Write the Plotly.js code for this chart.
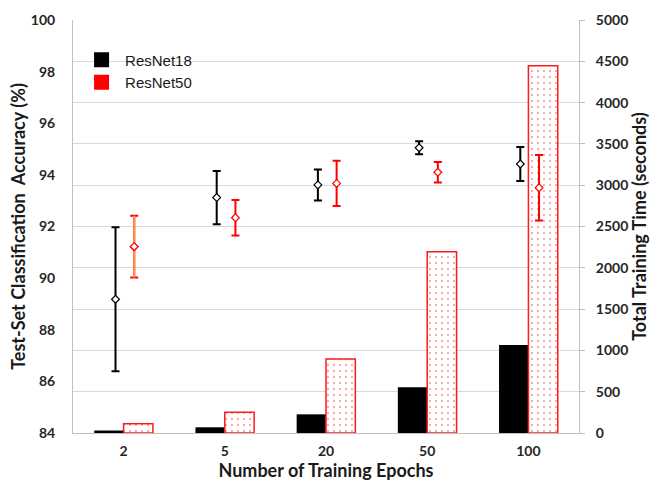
<!DOCTYPE html>
<html>
<head>
<meta charset="utf-8">
<script src="https://cdn.plot.ly/plotly-3.0.1.min.js"></script>
<style>html,body{margin:0;padding:0;background:#fff;}#chart{width:651px;height:481px;}</style>
</head>
<body>
<div id="chart"></div>
<script>
// ---- data ----
const epochs = ['2', '5', '20', '50', '100'];
const acc18 = [89.18, 93.12, 93.61, 95.05, 94.42];
const err18 = [2.79, 1.03, 0.60, 0.25, 0.66];
const acc50 = [91.22, 92.34, 93.67, 94.10, 93.50];
const err50 = [1.20, 0.69, 0.88, 0.40, 1.27];
const time18 = [30, 69, 226, 553, 1065];
const time50 = [113, 250, 896, 2195, 4447];

// ---- styling ----
const idx = epochs.map((_, i) => i);
const BW = 0.29;
const OFF18 = -0.08, OFF50 = 0.105;
const tickFont = {family: 'Lato, "Open Sans", sans-serif', size: 14, color: '#262626', weight: 700};
const titleFont = {family: 'Lato, "Open Sans", sans-serif', size: 18, color: '#1a1a1a', weight: 700};

const traces = [
  {type: 'bar', x: idx, y: time18, xaxis: 'x', yaxis: 'y', width: BW, offset: -BW,
   marker: {color: '#000000', line: {width: 0}}, showlegend: false, hoverinfo: 'skip'},
  {type: 'bar', x: idx, y: time50, xaxis: 'x', yaxis: 'y', width: BW, offset: 0,
   marker: {color: '#ffffff', line: {color: '#ff1a1a', width: 1.5},
            pattern: {shape: '.', fgcolor: '#ff3333', bgcolor: '#ffffff', size: 6, solidity: 0.08, fgopacity: 0.6}},
   showlegend: false, hoverinfo: 'skip'},
  {type: 'scatter', mode: 'markers', x: idx.map(i => i + OFF18), y: acc18, xaxis: 'x', yaxis: 'y2',
   marker: {symbol: 'diamond', size: 6, color: '#ffffff', line: {color: '#000000', width: 1.2}},
   error_y: {type: 'data', array: err18, visible: true, color: '#000000', thickness: 2, width: 4},
   showlegend: false},
  {type: 'scatter', mode: 'markers', x: idx.map(i => i + OFF50), y: acc50, xaxis: 'x', yaxis: 'y2',
   marker: {symbol: 'diamond', size: 6, color: '#ffffff', line: {color: '#ff0000', width: 1.2}},
   error_y: {type: 'data', array: err50, visible: true, color: '#ff0000', thickness: 2, width: 4},
   showlegend: false},
  // first ResNet50 point has an orange error line in the original
  {type: 'scatter', mode: 'markers', x: [idx[0] + OFF50], y: [acc50[0]], xaxis: 'x', yaxis: 'y2',
   marker: {symbol: 'diamond', size: 6, color: '#ffffff', line: {color: '#ff0000', width: 1.2}},
   error_y: {type: 'data', array: [err50[0]], visible: true, color: '#f79646', thickness: 2, width: 0},
   showlegend: false},
  // legend entries
  {type: 'scatter', mode: 'markers', x: [null], y: [null], xaxis: 'x', yaxis: 'y2', name: 'ResNet18',
   marker: {symbol: 'square', size: 15, color: '#000000'}},
  {type: 'scatter', mode: 'markers', x: [null], y: [null], xaxis: 'x', yaxis: 'y2', name: 'ResNet50',
   marker: {symbol: 'square', size: 15, color: '#ff0000'}}
];

const layout = {
  width: 651, height: 481,
  margin: {l: 73, r: 72, t: 20, b: 48},
  paper_bgcolor: '#ffffff', plot_bgcolor: '#ffffff',
  barmode: 'overlay',
  showlegend: true,
  legend: {x: 0.01, y: 0.943, xanchor: 'left', yanchor: 'top', bgcolor: 'rgba(0,0,0,0)', itemwidth: 37,
           font: {family: '"Liberation Sans", Arial, sans-serif', size: 15, color: '#1a1a1a'}},
  xaxis: {range: [-0.5, 4.5], tickmode: 'array', tickvals: idx, ticktext: epochs,
          showgrid: false, zeroline: false, showline: true, linecolor: '#bfbfbf', linewidth: 1,
          ticks: '', ticklabelstandoff: 5, tickfont: tickFont,
          title: {text: 'Number of Training Epochs', font: titleFont, standoff: 4}},
  yaxis: {range: [0, 5000], dtick: 500, side: 'right', showgrid: true, gridcolor: '#d9d9d9', gridwidth: 1,
          zeroline: false, showline: true, linecolor: '#bfbfbf', linewidth: 1,
          ticks: 'outside', ticklen: 5, tickcolor: '#bfbfbf', ticklabelstandoff: 8, tickfont: tickFont,
          title: {text: 'Total Training Time (seconds)', font: titleFont, standoff: 5}},
  yaxis2: {range: [84, 100], dtick: 2, overlaying: 'y', side: 'left', showgrid: false,
           zeroline: false, showline: true, linecolor: '#bfbfbf', linewidth: 1,
           ticks: '', ticklabelstandoff: 14, tickfont: tickFont,
           title: {text: 'Test-Set Classification  Accuracy (%)', font: titleFont, standoff: 0}}
};

Plotly.newPlot('chart', traces, layout, {displayModeBar: false, staticPlot: true});
</script>
</body>
</html>
